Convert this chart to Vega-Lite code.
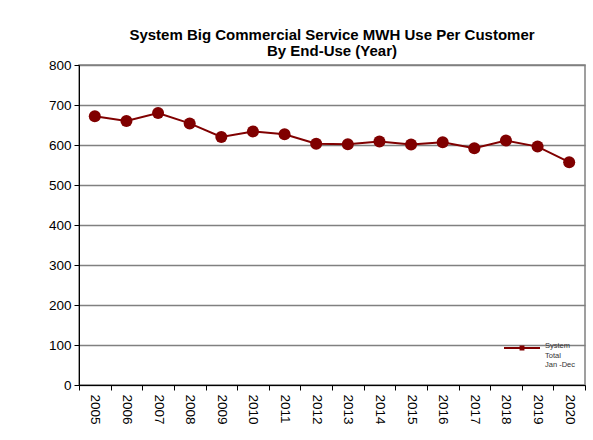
{
  "$schema": "https://vega.github.io/schema/vega-lite/v6.json",
  "width": 506,
  "height": 320,
  "autosize": {"type": "none"},
  "padding": {"left": 79, "top": 65, "right": 8, "bottom": 55},
  "background": "white",
  "title": {
    "text": ["System Big Commercial Service MWH Use Per Customer", "By End-Use (Year)"],
    "font": "Liberation Sans",
    "fontSize": 15,
    "fontWeight": "bold",
    "lineHeight": 16,
    "color": "black",
    "anchor": "middle",
    "offset": -1
  },
  "data": {
    "values": [
      {"year": "2005", "value": 672, "series": "System Total Jan -Dec"},
      {"year": "2006", "value": 660, "series": "System Total Jan -Dec"},
      {"year": "2007", "value": 680, "series": "System Total Jan -Dec"},
      {"year": "2008", "value": 654, "series": "System Total Jan -Dec"},
      {"year": "2009", "value": 620, "series": "System Total Jan -Dec"},
      {"year": "2010", "value": 634, "series": "System Total Jan -Dec"},
      {"year": "2011", "value": 627, "series": "System Total Jan -Dec"},
      {"year": "2012", "value": 603, "series": "System Total Jan -Dec"},
      {"year": "2013", "value": 602, "series": "System Total Jan -Dec"},
      {"year": "2014", "value": 609, "series": "System Total Jan -Dec"},
      {"year": "2015", "value": 601, "series": "System Total Jan -Dec"},
      {"year": "2016", "value": 607, "series": "System Total Jan -Dec"},
      {"year": "2017", "value": 592, "series": "System Total Jan -Dec"},
      {"year": "2018", "value": 611, "series": "System Total Jan -Dec"},
      {"year": "2019", "value": 596, "series": "System Total Jan -Dec"},
      {"year": "2020", "value": 557, "series": "System Total Jan -Dec"}
    ]
  },
  "encoding": {
    "x": {
      "field": "year",
      "type": "ordinal",
      "scale": {"type": "band", "paddingInner": 0, "paddingOuter": 0},
      "axis": {
        "title": null,
        "labelAngle": 90,
        "labelFont": "Liberation Sans",
        "labelFontSize": 13.5,
        "labelColor": "black",
        "labelPadding": 4,
        "tickBand": "extent",
        "tickColor": "black",
        "tickSize": 5,
        "domainColor": "black",
        "grid": false
      }
    },
    "y": {
      "field": "value",
      "type": "quantitative",
      "scale": {"domain": [0, 800], "nice": false},
      "axis": {
        "title": null,
        "values": [0, 100, 200, 300, 400, 500, 600, 700, 800],
        "labelFont": "Liberation Sans",
        "labelFontSize": 13.5,
        "labelColor": "black",
        "labelPadding": 3,
        "tickColor": "black",
        "tickSize": 5,
        "domainColor": "black",
        "grid": true,
        "gridColor": "#808080",
        "gridWidth": 1.5,
        "gridOpacity": 1
      }
    },
    "color": {
      "field": "series",
      "type": "nominal",
      "scale": {"range": ["#800000"]},
      "legend": {
        "title": null,
        "orient": "none",
        "legendX": 424,
        "legendY": 264,
        "symbolType": "M-1,0H1M-0.08,-0.08H0.08V0.08H-0.08Z",
        "symbolSize": 1296,
        "symbolStrokeWidth": 2,
        "symbolStrokeColor": "#800000",
        "symbolFillColor": "#800000",
        "labelExpr": "['System', 'Total', 'Jan -Dec']",
        "labelFont": "Liberation Sans",
        "labelFontSize": 7.5,
        "labelColor": "#333333",
        "labelBaseline": "alphabetic",
        "labelLineHeight": 9,
        "labelOffset": 4
      }
    }
  },
  "layer": [
    {"mark": {"type": "line", "strokeWidth": 2}},
    {"mark": {"type": "point", "filled": true, "size": 145, "opacity": 1}}
  ],
  "config": {
    "view": {"stroke": "#808080", "strokeWidth": 1.5},
    "axis": {"domainWidth": 1, "tickWidth": 1}
  }
}
